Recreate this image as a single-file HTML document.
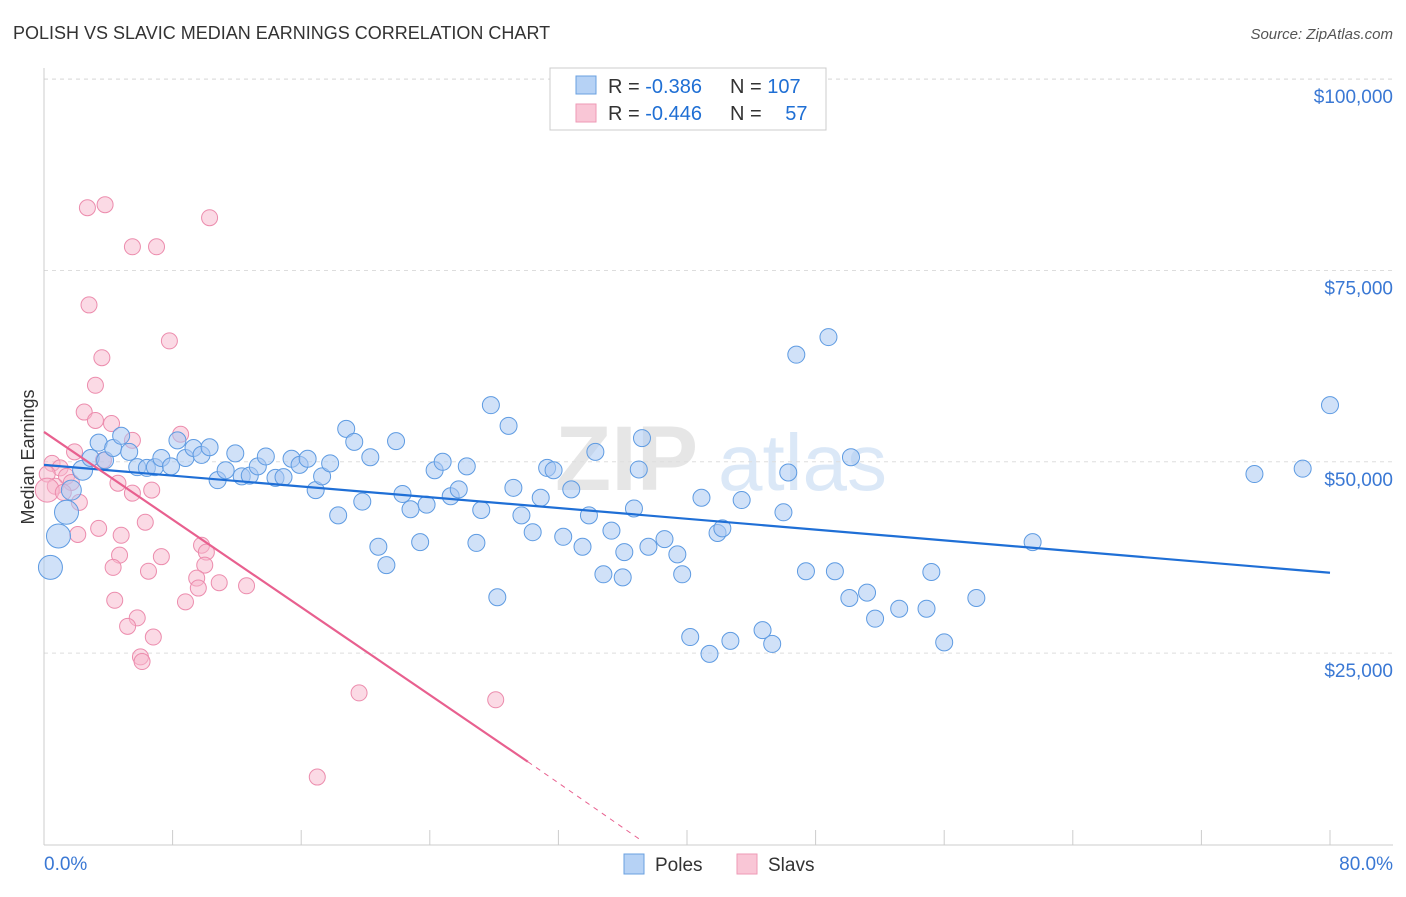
<!DOCTYPE html>
<html><head><meta charset="utf-8"><style>
body{margin:0;background:#fff;font-family:"Liberation Sans",sans-serif}
svg text{font-family:"Liberation Sans",sans-serif}
</style></head><body>
<svg id="c" width="1406" height="892">
<text x="13" y="39" font-size="18" fill="#333">POLISH VS SLAVIC MEDIAN EARNINGS CORRELATION CHART</text>
<text x="1393" y="39" font-size="15" fill="#555" text-anchor="end" font-style="italic">Source: ZipAtlas.com</text>
<text transform="translate(34,457) rotate(-90)" font-size="18" fill="#333" text-anchor="middle">Median Earnings</text>
<g opacity="0.18">
<text x="555" y="490" font-size="92" font-family="Liberation Serif" fill="#777" font-weight="bold">ZIP</text>
<text x="718" y="490" font-size="80" fill="#3b82d6">atlas</text>
</g>
<g id="grid"></g><g id="pts"></g><g id="trend"></g>
<g>
<rect x="550" y="68" width="276" height="62" fill="#fff" stroke="#ccc"/>
<rect x="576" y="76" width="20" height="18" fill="#b6d2f5" stroke="#6aa0e0"/>
<rect x="576" y="104" width="20" height="18" fill="#f9c6d6" stroke="#ee9ab6"/>
<text x="608" y="93" font-size="20" fill="#333">R = <tspan fill="#1f6fd4">-0.386</tspan><tspan dx="28">N = </tspan><tspan fill="#1f6fd4">107</tspan></text>
<text x="608" y="120" font-size="20" fill="#333">R = <tspan fill="#1f6fd4">-0.446</tspan><tspan dx="28">N = </tspan><tspan fill="#1f6fd4" dx="18">57</tspan></text>
</g>
<g>
<rect x="624" y="854" width="20" height="20" fill="#b6d2f5" stroke="#6aa0e0"/>
<text x="655" y="871" font-size="19" fill="#333">Poles</text>
<rect x="737" y="854" width="20" height="20" fill="#f9c6d6" stroke="#ee9ab6"/>
<text x="768" y="871" font-size="19" fill="#333">Slavs</text>
</g>
</svg>
<script>
const yTicks=[25000,50000,75000,100000];
const yTickLabels=["$25,000","$50,000","$75,000","$100,000"];
const xEnds=[0,80];
const xEndLabels=["0.0%","80.0%"];
const polesX=[0.4,0.9,1.4,1.7,2.4,2.9,3.4,3.8,4.3,4.8,5.3,5.8,6.4,6.9,7.3,7.9,8.3,8.8,9.3,9.8,10.3,10.8,11.3,11.9,12.3,12.8,13.3,13.8,14.4,14.9,15.4,15.9,16.4,16.9,17.3,17.8,18.3,18.8,19.3,19.8,20.3,20.8,21.3,21.9,22.3,22.8,23.4,23.8,24.3,24.8,25.3,25.8,26.3,26.9,27.2,27.8,28.2,28.9,29.2,29.7,30.4,30.9,31.3,31.7,32.3,32.8,33.5,33.9,34.3,34.8,35.3,36.0,36.1,36.7,37.2,37.0,37.6,38.6,39.4,39.7,40.2,40.9,41.4,41.9,42.2,42.7,43.4,44.7,45.3,46.0,46.3,46.8,47.4,48.8,49.2,50.1,50.2,51.2,51.7,53.2,54.9,55.2,56.0,58.0,61.5,75.3,78.3,80.0];
const polesY=[36.2,40.3,43.4,46.3,48.9,50.5,52.5,50.2,51.8,53.4,51.3,49.3,49.2,49.3,50.5,49.4,52.8,50.5,51.8,50.9,51.9,47.6,48.9,51.1,48.1,48.2,49.4,50.7,47.9,48.0,50.4,49.6,50.4,46.3,48.1,49.8,43.0,54.3,52.6,44.8,50.6,38.9,36.5,52.7,45.8,43.8,39.5,44.4,48.9,50.0,45.5,46.4,49.4,39.4,43.7,57.4,32.3,54.7,46.6,43.0,40.8,45.3,49.2,48.9,40.2,46.4,38.9,43.0,51.3,35.3,41.0,34.9,38.2,43.9,53.1,49.0,38.9,39.9,37.9,35.3,27.1,45.3,24.9,40.7,41.3,26.6,45.0,28.0,26.2,43.4,48.6,64.0,35.7,66.3,35.7,32.2,50.6,32.9,29.5,30.8,30.8,35.6,26.4,32.2,39.5,48.4,49.1,57.4];
const slavsX=[2.7,3.8,10.3,5.5,7.0,2.8,7.8,3.6,3.2,2.5,4.2,3.2,8.5,5.5,1.9,3.7,0.5,1.0,0.2,1.4,1.7,0.7,0.2,1.2,4.6,5.5,6.7,2.2,6.3,3.4,2.1,4.8,9.8,10.1,4.7,7.3,4.3,10.0,6.5,9.5,10.9,12.6,9.6,4.4,8.8,5.8,5.2,6.8,6.0,6.1,19.6,28.1,17.0];
const slavsY=[83.2,83.6,81.9,78.1,78.1,70.5,65.8,63.6,60.0,56.5,55.0,55.4,53.6,52.8,51.3,50.2,49.8,49.2,48.4,48.1,47.3,46.8,46.3,46.0,47.2,45.9,46.3,44.7,42.1,41.3,40.5,40.4,39.1,38.2,37.8,37.6,36.2,36.5,35.7,34.8,34.2,33.8,33.5,31.9,31.7,29.6,28.5,27.1,24.5,23.9,19.8,18.9,8.8];
const polesTrendX=[0,80], polesTrendY=[49.6,35.5];
const slavsTrendX=[0,30.1], slavsTrendY=[53.9,10.8];
const slavsDashX=[30.1,37.1], slavsDashY=[10.8,0.6];

const X0=44,X1=1330,Y0=844.4,YPER=191.3/25000;
const sx=v=>X0+(v-xEnds[0])/(xEnds[1]-xEnds[0])*(X1-X0);
const sy=v=>Y0-v*YPER;
const NS="http://www.w3.org/2000/svg";
function mk(t,a,p){const e=document.createElementNS(NS,t);for(const k in a)e.setAttribute(k,a[k]);p.appendChild(e);return e;}
const grid=document.getElementById('grid');
yTicks.forEach((t,i)=>{
 const l=mk('line',{x1:44,x2:1393,y1:sy(t),y2:sy(t),stroke:'#ddd','stroke-dasharray':'4,4'},grid);
 
 
 const tx=mk('text',{x:1393,y:sy(t)+24,'font-size':19,fill:'#3a78d4','text-anchor':'end'},grid);
 tx.textContent=yTickLabels[i];
 
 
});
const topGrid=mk('line',{x1:44,x2:1393,y1:79,y2:79,stroke:'#ddd','stroke-dasharray':'4,4'},grid);


mk('line',{x1:44,x2:44,y1:68,y2:845,stroke:'#ccc'},grid);
const xa=mk('line',{x1:44,x2:1393,y1:845,y2:845,stroke:'#ccc'},grid);


for(let i=0;i<=10;i++){const v=xEnds[0]+i*(xEnds[1]-xEnds[0])/10;mk('line',{x1:sx(v),x2:sx(v),y1:830,y2:845,stroke:'#ccc'},grid);}
xEndLabels.forEach((s,i)=>{const t=mk('text',{x:i?1393:44,y:870,'font-size':19,fill:'#3a78d4','text-anchor':i?'end':'start'},grid);t.textContent=s;
 
 });
const pts=document.getElementById('pts');
slavsX.forEach((x,i)=>{const c=mk('circle',{cx:sx(x),cy:sy(slavsY[i]*1000),r:(i==22?12:8),fill:'#f7b6cb','fill-opacity':0.5,stroke:'#ec8cad','stroke-width':1},pts);
 
 });
polesX.forEach((x,i)=>{const c=mk('circle',{cx:sx(x),cy:sy(polesY[i]*1000),r:(i<3?12:(i<5?10:8.5)),fill:'#a9c9f2','fill-opacity':0.55,stroke:'#5e9be2','stroke-width':1},pts);
 
 });
const tr=document.getElementById('trend');
const a=mk('line',{x1:sx(polesTrendX[0]),y1:sy(polesTrendY[0]*1000),x2:sx(polesTrendX[1]),y2:sy(polesTrendY[1]*1000),stroke:'#1f6fd6','stroke-width':2.2},tr);


const b=mk('line',{x1:sx(slavsTrendX[0]),y1:sy(slavsTrendY[0]*1000),x2:sx(slavsTrendX[1]),y2:sy(slavsTrendY[1]*1000),stroke:'#e8608f','stroke-width':2.2},tr);


const d=mk('line',{x1:sx(slavsDashX[0]),y1:sy(slavsDashY[0]*1000),x2:sx(slavsDashX[1]),y2:sy(slavsDashY[1]*1000),stroke:'#e8608f','stroke-width':1,'stroke-dasharray':'5,5'},tr);


</script>
</body></html>
